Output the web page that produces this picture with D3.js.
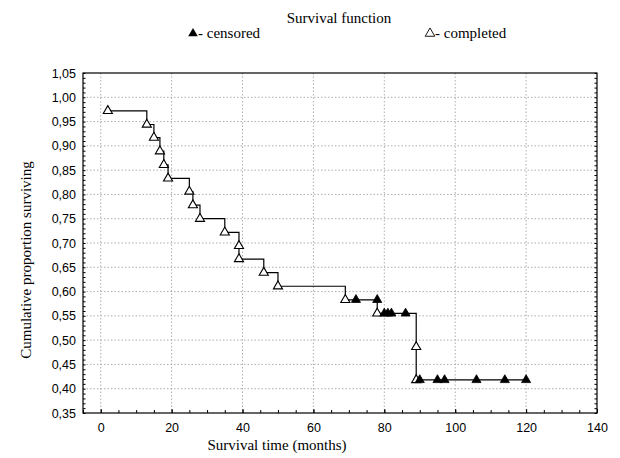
<!doctype html>
<html>
<head>
<script src="https://d3js.org/d3.v7.min.js"></script>
<style>
body { margin: 0; background: #fff; }
.tick text { font-family: "Liberation Sans", Arial, sans-serif; font-size: 12.5px; fill: #000; }
.lbl { font-family: "Liberation Serif", "Times New Roman", serif; font-size: 15px; fill: #000; }
.grid line { stroke: #999; stroke-dasharray: 1.5,2; stroke-width: 0.8; }
</style>
</head>
<body>
<svg width="620" height="458" id="chart"></svg>

<script type="text/javascript">
// completed (events)
var completedTime = [2, 13, 15, 16.7, 17.8, 19, 25, 26, 28, 35, 39, 39, 46, 50, 69, 78, 89, 89];
var completedSurv = [0.972, 0.944, 0.917, 0.889, 0.861, 0.833, 0.806, 0.778, 0.750, 0.722, 0.694, 0.667, 0.639, 0.611, 0.583, 0.555, 0.486, 0.418];
// censored
var censoredTime = [72, 78, 80, 81, 82, 86, 90, 95, 97, 106, 114, 120];
var censoredSurv = [0.583, 0.583, 0.555, 0.555, 0.555, 0.555, 0.418, 0.418, 0.418, 0.418, 0.418, 0.418];

var xTicks = [0, 20, 40, 60, 80, 100, 120, 140];
var yTicks = [0.35, 0.40, 0.45, 0.50, 0.55, 0.60, 0.65, 0.70, 0.75, 0.80, 0.85, 0.90, 0.95, 1.00, 1.05];

var svg = d3.select("#chart");
var mLeft = 83, mRight = 597, mTop = 73, mBottom = 413;

var x = d3.scaleLinear().domain([-5, 140]).range([mLeft, mRight]);
var y = d3.scaleLinear().domain([0.35, 1.05]).range([mBottom, mTop]);

var fmt = function(d) { return d3.format(".2f")(d).replace(".", ","); };

// grid
svg.append("g").attr("class", "grid")
  .selectAll("line").data(xTicks.slice(0, -1)).enter().append("line")
  .attr("x1", function(d) { return x(d); }).attr("x2", function(d) { return x(d); })
  .attr("y1", mTop).attr("y2", mBottom);
svg.append("g").attr("class", "grid")
  .selectAll("line").data(yTicks.slice(1, -1)).enter().append("line")
  .attr("x1", mLeft).attr("x2", mRight)
  .attr("y1", function(d) { return y(d); }).attr("y2", function(d) { return y(d); });

// minor ticks
var xMinor = d3.range(-5, 141, 5);
var yMinor = d3.range(35, 106, 1).map(function(d) { return d / 100; });

var gx = svg.append("g").attr("transform", "translate(0," + mBottom + ")")
  .call(d3.axisBottom(x).tickValues(xMinor).tickSize(-3).tickFormat(""));
gx.select(".domain").remove();
gx.selectAll("line").attr("stroke", "#000");
var gx2 = svg.append("g").attr("transform", "translate(0," + mBottom + ")")
  .call(d3.axisBottom(x).tickValues(xTicks).tickSize(-4).tickPadding(10).tickFormat(d3.format("d")));
gx2.select(".domain").remove();
gx2.selectAll("line").attr("stroke", "#000");

var gy = svg.append("g").attr("transform", "translate(" + mLeft + ",0)")
  .call(d3.axisLeft(y).tickValues(yMinor).tickSize(-2.5).tickFormat(""));
gy.select(".domain").remove();
gy.selectAll("line").attr("stroke", "#000");
var gy2 = svg.append("g").attr("transform", "translate(" + mLeft + ",0)")
  .call(d3.axisLeft(y).tickValues(yTicks).tickSize(0).tickPadding(7).tickFormat(fmt));
gy2.select(".domain").remove();

// right side minor ticks
var gr = svg.append("g").attr("transform", "translate(" + mRight + ",0)")
  .call(d3.axisRight(y).tickValues(yMinor).tickSize(-2.5).tickFormat(""));
gr.select(".domain").remove();
gr.selectAll("line").attr("stroke", "#000");

// frame
svg.append("rect").attr("x", mLeft).attr("y", mTop)
  .attr("width", mRight - mLeft).attr("height", mBottom - mTop)
  .attr("fill", "none").attr("stroke", "#000").attr("stroke-width", 1.2);

// step line
var pts = [];
completedTime.forEach(function(t, i) { pts.push({t: t, s: completedSurv[i]}); });
censoredTime.forEach(function(t, i) { pts.push({t: t, s: censoredSurv[i]}); });
pts.sort(function(a, b) { return a.t - b.t || b.s - a.s; });

var line = d3.line().x(function(d) { return x(d.t); }).y(function(d) { return y(d.s); })
  .curve(d3.curveStepAfter);
svg.append("path").datum(pts).attr("d", line)
  .attr("fill", "none").attr("stroke", "#000").attr("stroke-width", 1.2);

var tri = d3.symbol().type(d3.symbolTriangle).size(36);

svg.selectAll("path.done").data(completedTime).enter().append("path")
  .attr("class", "done").attr("d", tri)
  .attr("transform", function(d, i) { return "translate(" + x(d) + "," + y(completedSurv[i]) + ")"; })
  .attr("fill", "#fff").attr("stroke", "#000").attr("stroke-width", 1.1);

svg.selectAll("path.cens").data(censoredTime).enter().append("path")
  .attr("class", "cens").attr("d", tri)
  .attr("transform", function(d, i) { return "translate(" + x(d) + "," + y(censoredSurv[i]) + ")"; })
  .attr("fill", "#000").attr("stroke", "#000").attr("stroke-width", 0.8);

// titles
svg.append("text").attr("class", "lbl").attr("x", 339).attr("y", 22.5)
  .attr("text-anchor", "middle").text("Survival function");

svg.append("path").attr("d", d3.symbol().type(d3.symbolTriangle).size(40))
  .attr("transform", "translate(193,33.5)").attr("fill", "#000");
svg.append("text").attr("class", "lbl").attr("x", 198).attr("y", 37.5).text("- censored");

svg.append("path").attr("d", d3.symbol().type(d3.symbolTriangle).size(40))
  .attr("transform", "translate(430,33.5)").attr("fill", "#fff").attr("stroke", "#000").attr("stroke-width", 0.9);
svg.append("text").attr("class", "lbl").attr("x", 435).attr("y", 37.5).text("- completed");

svg.append("text").attr("class", "lbl").attr("x", 277).attr("y", 450)
  .attr("text-anchor", "middle").text("Survival time (months)");

svg.append("text").attr("class", "lbl")
  .attr("transform", "translate(31,260) rotate(-90)")
  .attr("text-anchor", "middle").text("Cumulative proportion surviving");
</script>
</body>
</html>
